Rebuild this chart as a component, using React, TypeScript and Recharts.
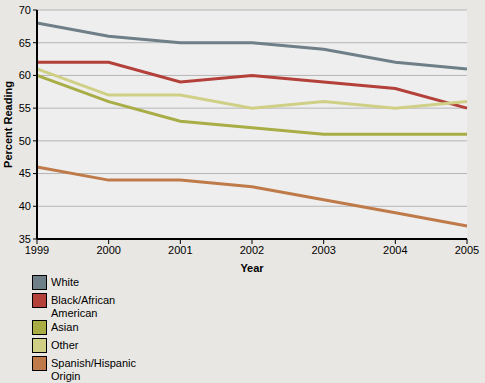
import React from 'react';
import { LineChart, Line, XAxis, YAxis, CartesianGrid } from 'recharts';

const years = ['1999', '2000', '2001', '2002', '2003', '2004', '2005'];
const white = [68, 66, 65, 65, 64, 62, 61];
const black = [62, 62, 59, 60, 59, 58, 55];
const asian = [60, 56, 53, 52, 51, 51, 51];
const other = [61, 57, 57, 55, 56, 55, 56];
const hispanic = [46, 44, 44, 43, 41, 39, 37];
const yTicks = [35, 40, 45, 50, 55, 60, 65, 70];

const series = [
  { key: 'white', name: 'White', lines: ['White'], color: '#6f7f87' },
  { key: 'black', name: 'Black/African American', lines: ['Black/African', 'American'], color: '#b4403a' },
  { key: 'asian', name: 'Asian', lines: ['Asian'], color: '#a8ad45' },
  { key: 'other', name: 'Other', lines: ['Other'], color: '#cfd085' },
  { key: 'hispanic', name: 'Spanish/Hispanic Origin', lines: ['Spanish/Hispanic', 'Origin'], color: '#bf7a49' },
];

const data = years.map((year, i) => ({
  year,
  white: white[i],
  black: black[i],
  asian: asian[i],
  other: other[i],
  hispanic: hispanic[i],
}));

const FONT = '"Liberation Sans", Arial, sans-serif';

// legend sits under the plot, like the original
const LegendBox = () => {
  let top = 0;
  return (
    <div style={{ position: 'absolute', left: 32, top: 275, fontFamily: FONT, fontSize: 11, color: '#000' }}>
      {series.map((s) => {
        const y = top;
        top += s.lines.length > 1 ? 27 : 18;
        return (
          <div key={s.key} style={{ position: 'absolute', left: 0, top: y, whiteSpace: 'nowrap' }}>
            <div
              style={{
                position: 'absolute',
                left: 0,
                top: 0,
                width: 13,
                height: 13,
                background: s.color,
                border: '1px solid #000',
              }}
            />
            <div style={{ position: 'absolute', left: 19, top: 1, lineHeight: '13px' }}>
              {s.lines.map((l) => (
                <div key={l}>{l}</div>
              ))}
            </div>
          </div>
        );
      })}
    </div>
  );
};

export default function App() {
  return (
    <div style={{ position: 'absolute', left: 0, top: 0, width: 485, height: 383, background: '#e9e7e3' }}>
      <LineChart width={485} height={383} data={data} margin={{ top: 10, right: 18, left: 0, bottom: 114 }}>
        <CartesianGrid vertical={false} stroke="#b5b5b5" fill="#eeeeee" />
        <XAxis
          dataKey="year"
          padding={{ left: 0, right: 0 }}
          stroke="#000"
          strokeWidth={2}
          tickSize={5}
          tickMargin={2}
          height={30}
          tick={{ fill: '#000', fontSize: 11, fontFamily: FONT }}
          tickLine={{ stroke: '#000', strokeWidth: 1 }}
          interval={0}
          label={{ value: 'Year', position: 'insideBottom', offset: -3, fill: '#000', fontSize: 11, fontWeight: 'bold', fontFamily: FONT }}
        />
        <XAxis xAxisId="top" dataKey="year" orientation="top" height={0} tick={false} tickLine={false} stroke="#000" />
        <YAxis
          domain={[35, 70]}
          ticks={yTicks}
          width={37}
          stroke="#000"
          strokeWidth={2}
          tickSize={4}
          tickMargin={2}
          tick={{ fill: '#000', fontSize: 11, fontFamily: FONT }}
          tickLine={{ stroke: '#000', strokeWidth: 1 }}
          label={{ value: 'Percent Reading', angle: -90, position: 'center', dx: -10, fill: '#000', fontSize: 11, fontWeight: 'bold', fontFamily: FONT }}
        />
        <YAxis yAxisId="right" orientation="right" width={0} tick={false} tickLine={false} stroke="#000" />
        {series.map((s) => (
          <Line
            key={s.key}
            type="linear"
            dataKey={s.key}
            name={s.name}
            stroke={s.color}
            strokeWidth={3}
            dot={false}
            isAnimationActive={false}
          />
        ))}
      </LineChart>
      <LegendBox />
    </div>
  );
}
